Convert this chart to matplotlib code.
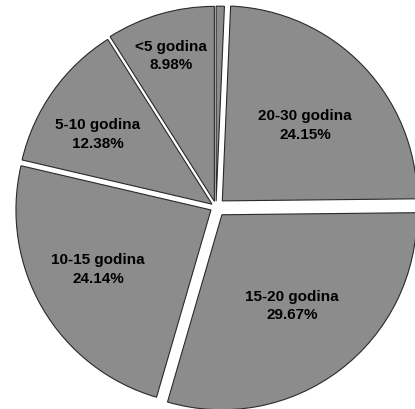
import numpy as np
import matplotlib
matplotlib.use("Agg")
import matplotlib.pyplot as plt

# -*- data (share of respondents by years of service)
labels = ["", "20-30 godina", "15-20 godina", "10-15 godina", "5-10 godina", "<5 godina"]
shares = [0.68, 24.15, 29.67, 24.14, 12.38, 8.98]

# -*- style
explode = [0.03, 0.045, 0.05, 0.03, 0.025, 0.03]
lab_dist = [0.0, 0.62, 0.64, 0.686, 0.712, 0.808]   # label radius (data units)
lab_dang = [0.0, -1.4, 0.3, -2.3, 3.9, 0.4]         # label angle nudge (deg)
R = 195.0          # pie radius in pixels
cx, cy = 216, 207  # pie centre in pixels

plt.rcParams["font.family"] = ["Liberation Sans", "DejaVu Sans"]

fig = plt.figure(figsize=(4.15, 4.09), dpi=100)
ax = fig.add_axes([0, 0, 1, 1])

wedges, _ = ax.pie(
    shares,
    explode=explode,
    startangle=90,
    counterclock=False,
    colors=["#8c8c8c"] * len(shares),
    wedgeprops=dict(edgecolor="#2a2a2a", linewidth=0.8),
)

for w, lab, val, d, da in zip(wedges, labels, shares, lab_dist, lab_dang):
    if not lab:
        continue
    a = np.deg2rad((w.theta1 + w.theta2) / 2.0 + da)
    ax.text(d * np.cos(a), d * np.sin(a), f"{lab}\n{val:.2f}%",
            ha="center", va="center", fontsize=11, fontweight="bold",
            linespacing=1.45, color="black")

ax.set_aspect("auto")
ax.set_xlim(-cx / R, (415 - cx) / R)
ax.set_ylim(-(409 - cy) / R, cy / R)
ax.axis("off")

fig.savefig("out.png", dpi=100)
